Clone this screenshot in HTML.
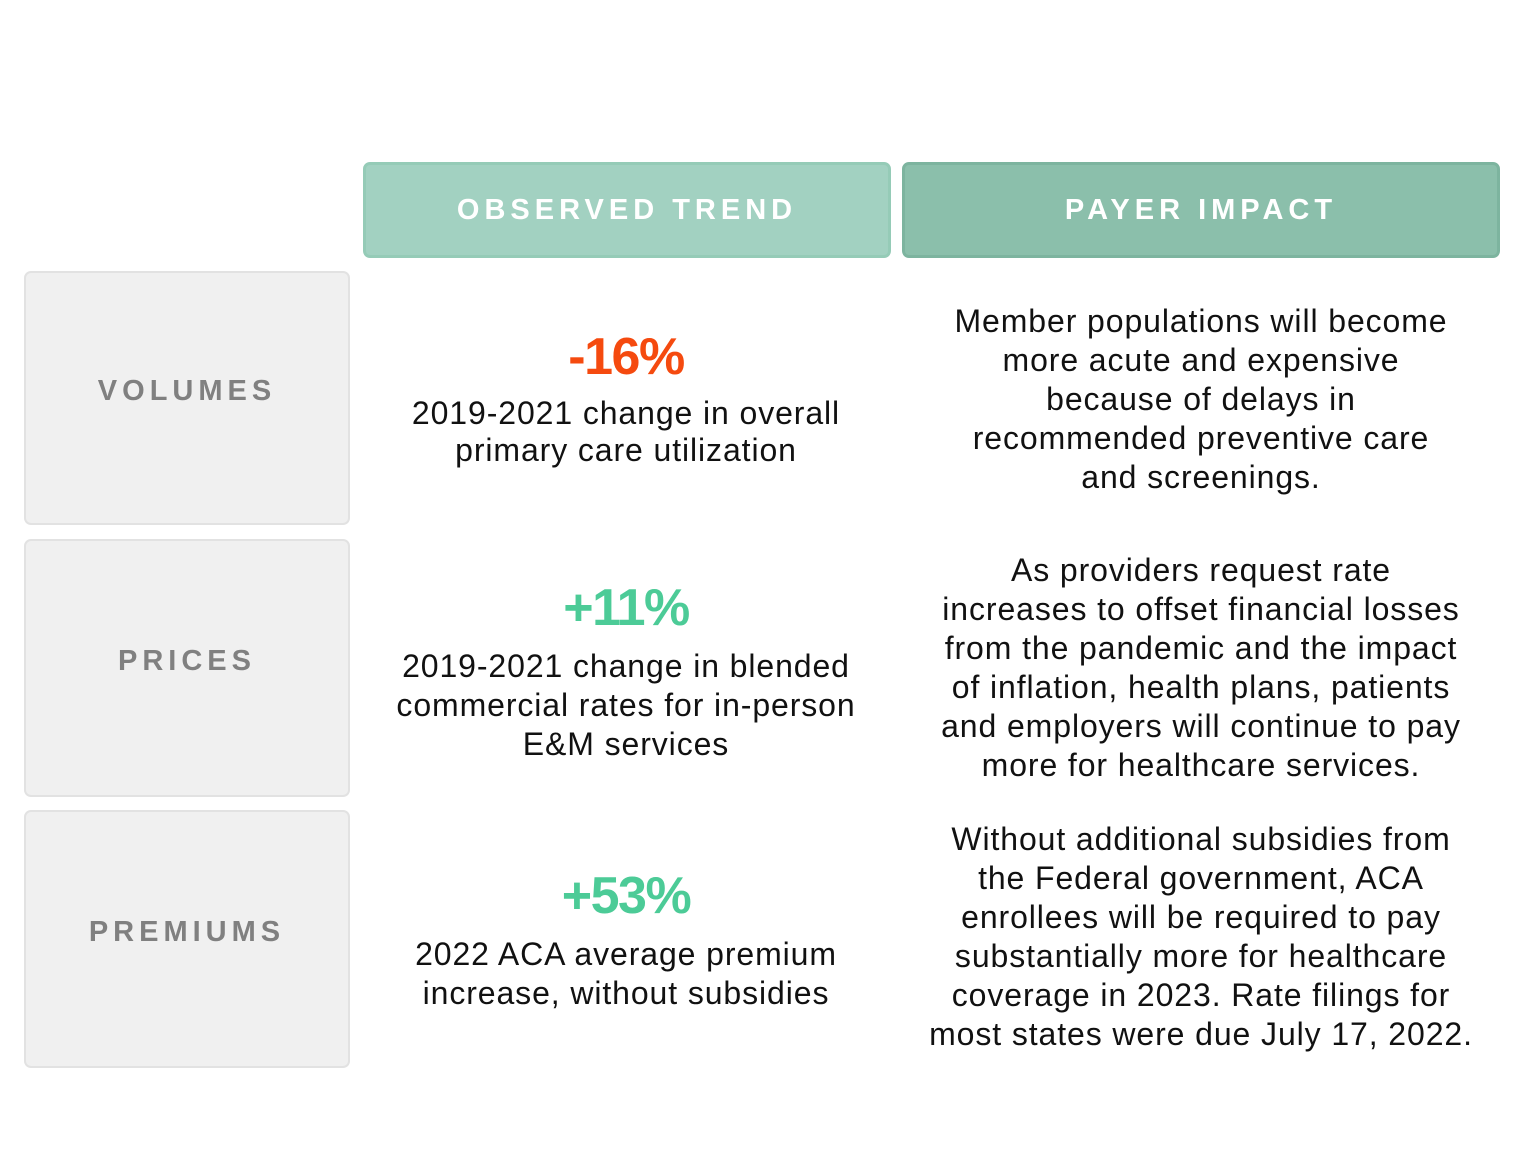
<!DOCTYPE html>
<html><head><meta charset="utf-8"><style>
body{margin:0;width:1527px;height:1149px;background:#fff;position:relative;font-family:"Liberation Sans",sans-serif;overflow:hidden}
.a{position:absolute}
.hdr{border-radius:7px;color:#fff;font-weight:bold;font-size:29px;letter-spacing:5px;display:flex;align-items:center;justify-content:center;box-sizing:border-box}
.row{background:#f0f0f0;border:2px solid #e2e2e2;border-radius:7px;box-sizing:border-box;color:#808080;font-weight:bold;font-size:29px;letter-spacing:5px;display:flex;align-items:center;justify-content:center;padding-bottom:14px}
.txt{text-align:center;font-size:32px;letter-spacing:0.9px;line-height:39px;color:#111;white-space:nowrap}
.big{text-align:center;font-weight:bold;font-size:52px;line-height:56px;letter-spacing:-1.5px}
</style></head><body>
<div class="a hdr" style="left:363px;top:162px;width:528px;height:96px;background:#a2d1c1;border:3px solid #95cbb7">OBSERVED TREND</div>
<div class="a hdr" style="left:902px;top:162px;width:598px;height:96px;background:#8bbfab;border:3px solid #7db49f">PAYER IMPACT</div>

<div class="a row" style="left:24px;top:271px;width:326px;height:254px">VOLUMES</div>
<div class="a row" style="left:24px;top:539px;width:326px;height:258px">PRICES</div>
<div class="a row" style="left:24px;top:810px;width:326px;height:258px">PREMIUMS</div>

<div class="a big" style="left:376px;width:500px;top:329px;color:#f54a0f">-16%</div>
<div class="a txt" style="left:276px;width:700px;top:395px;line-height:37px">2019-2021 change in overall<br>primary care utilization</div>
<div class="a txt" style="left:851px;width:700px;top:302px">Member populations will become<br>more acute and expensive<br>because of delays in<br>recommended preventive care<br>and screenings.</div>

<div class="a big" style="left:376px;width:500px;top:580px;color:#4ccb97">+11%</div>
<div class="a txt" style="left:276px;width:700px;top:647px">2019-2021 change in blended<br>commercial rates for in-person<br>E&amp;M services</div>
<div class="a txt" style="left:851px;width:700px;top:551px">As providers request rate<br>increases to offset financial losses<br>from the pandemic and the impact<br>of inflation, health plans, patients<br>and employers will continue to pay<br>more for healthcare services.</div>

<div class="a big" style="left:376px;width:500px;top:868px;color:#4ccb97">+53%</div>
<div class="a txt" style="left:276px;width:700px;top:935px">2022 ACA average premium<br>increase, without subsidies</div>
<div class="a txt" style="left:851px;width:700px;top:820px">Without additional subsidies from<br>the Federal government, ACA<br>enrollees will be required to pay<br>substantially more for healthcare<br>coverage in 2023. Rate filings for<br>most states were due July 17, 2022.</div>
</body></html>
